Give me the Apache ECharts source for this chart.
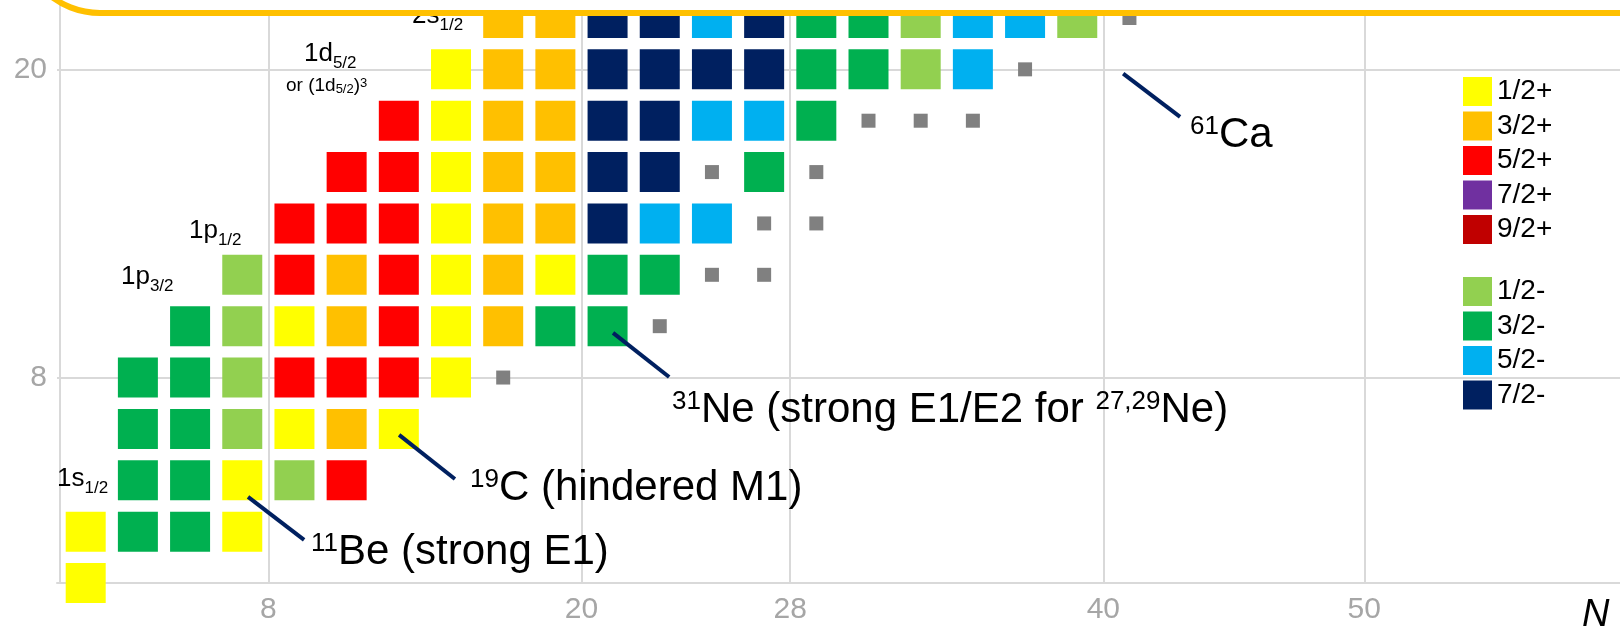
<!DOCTYPE html>
<html>
<head>
<meta charset="utf-8">
<script src="https://cdn.jsdelivr.net/npm/echarts@6/dist/echarts.min.js"></script>
<style>
  html, body { margin: 0; padding: 0; background: #fff; }
  #chart { width: 1620px; height: 633px; }
</style>
</head>
<body>
<div id="chart"></div>
<script>
// ground-state spin/parity of odd-N nuclei, points are [N, Z]
const spinNames = ['1/2+', '3/2+', '5/2+', '7/2+', '9/2+', '1/2-', '3/2-', '5/2-', '7/2-'];

const halfPlus = [[1,0],[1,2],[7,2],[7,4],[9,6],[13,6],[15,8],[9,10],[15,10],[15,12],[19,12],[15,14],[15,16],[15,18],[15,20]];
const threeHalfPlus = [[11,6],[11,10],[17,10],[11,12],[17,12],[17,14],[19,14],[17,16],[19,16],[17,18],[19,18],[17,20],[19,20],[17,22],[19,22]];
const fiveHalfPlus = [[11,4],[9,8],[11,8],[13,8],[13,10],[9,12],[13,12],[9,14],[11,14],[13,14],[11,16],[13,16],[13,18]];
const sevenHalfPlus = [];
const nineHalfPlus = [];
const halfMinus = [[9,4],[7,6],[7,8],[7,10],[7,12],[33,20],[33,22],[39,22]];
const threeHalfMinus = [[3,2],[5,2],[3,4],[5,4],[3,6],[5,6],[3,8],[5,8],[5,10],[19,10],[21,10],[21,12],[23,12],[27,16],[29,18],[29,20],[31,20],[29,22],[31,22]];
const fiveHalfMinus = [[23,14],[25,14],[25,18],[27,18],[35,20],[25,22],[35,22],[37,22]];
const sevenHalfMinus = [[21,14],[21,16],[23,16],[21,18],[23,18],[21,20],[23,20],[25,20],[27,20],[21,22],[23,22],[27,22]];
const unknownSpin = [[17,8],[23,10],[25,12],[27,12],[27,14],[29,14],[25,16],[29,16],[31,18],[33,18],[35,18],[37,20],[41,22]];

const magicN = [8, 20, 28, 40, 50];
const magicZ = [8, 20];

// leader lines for the annotations, in [N, Z]
const leaderLines = [
  [[7.22, 3.35], [9.37, 1.68]],
  [[13.01, 5.77], [15.15, 4.05]],
  [[21.21, 9.74], [23.36, 8.02]],
  [[40.76, 19.83], [42.94, 18.15]]
];

const spinPoints = [halfPlus, threeHalfPlus, fiveHalfPlus, sevenHalfPlus, nineHalfPlus,
  halfMinus, threeHalfMinus, fiveHalfMinus, sevenHalfMinus];
const spinColors = ['#FFFF00', '#FFC000', '#FF0000', '#7030A0', '#C00000',
  '#92D050', '#00B050', '#00B0F0', '#002060'];

const FONT = '"Liberation Sans", Arial, sans-serif';
const gridColor = '#d9d9d9';

const chart = echarts.init(document.getElementById('chart'));

function bigNote(x, y, text) {
  return {
    type: 'text', x: x, y: y, z: 50, silent: true,
    style: {
      text: text, fill: '#000', verticalAlign: 'middle', align: 'left',
      rich: {
        m: { fontSize: 42, fontFamily: FONT, lineHeight: 42, verticalAlign: 'bottom', fill: '#000' },
        s: { fontSize: 26, fontFamily: FONT, verticalAlign: 'top', fill: '#000' }
      }
    }
  };
}

function shellLabel(x, y, text) {
  return {
    type: 'text', x: x, y: y, z: 50, silent: true,
    style: {
      text: text, fill: '#000', verticalAlign: 'middle', align: 'left',
      rich: {
        m: { fontSize: 26, fontFamily: FONT, lineHeight: 31, verticalAlign: 'top', fill: '#000' },
        b: { fontSize: 17, fontFamily: FONT, verticalAlign: 'bottom', fill: '#000' }
      }
    }
  };
}

const series = spinNames.map(function (name, i) {
  return {
    type: 'scatter',
    name: name,
    symbol: 'rect',
    symbolSize: 40,
    data: spinPoints[i],
    itemStyle: { color: spinColors[i], opacity: 1 },
    silent: true
  };
});
series.push({
  type: 'scatter',
  name: 'unknown',
  symbol: 'rect',
  symbolSize: 14,
  data: unknownSpin,
  itemStyle: { color: '#808080', opacity: 1 },
  silent: true,
  markLine: {
    silent: true,
    symbol: 'none',
    label: { show: false },
    lineStyle: { color: '#002060', width: 4, type: 'solid', opacity: 1 },
    data: leaderLines.map(function (l) {
      return [{ coord: l[0] }, { coord: l[1] }];
    })
  }
});

const legendBase = {
  orient: 'vertical',
  left: 1463,
  itemWidth: 29,
  itemHeight: 29,
  itemGap: 5.5,
  padding: 0,
  icon: 'rect',
  selectedMode: false,
  itemStyle: { opacity: 1 },
  textStyle: { fontSize: 28, color: '#000', fontFamily: FONT }
};

chart.setOption({
  animation: false,
  backgroundColor: '#fff',
  grid: { left: 57, right: 0, top: 0, bottom: 50, containLabel: false, outerBoundsMode: 'none' },
  xAxis: {
    type: 'value',
    min: -0.1,
    max: 59.8,
    axisLine: { show: true, lineStyle: { color: gridColor, width: 2 } },
    axisTick: { show: false, customValues: magicN },
    axisLabel: { customValues: magicN, fontSize: 30, color: '#a6a6a6', fontFamily: FONT, margin: 12 },
    splitLine: { show: true, lineStyle: { color: gridColor, width: 2 } }
  },
  yAxis: {
    type: 'value',
    min: 0,
    max: 22.7,
    axisLine: { show: true, lineStyle: { color: gridColor, width: 2 } },
    axisTick: { show: false, customValues: magicZ },
    axisLabel: { customValues: magicZ, fontSize: 30, color: '#a6a6a6', fontFamily: FONT, margin: 10 },
    splitLine: { show: true, lineStyle: { color: gridColor, width: 2 } }
  },
  legend: [
    Object.assign({}, legendBase, { top: 77, data: spinNames.slice(0, 5) }),
    Object.assign({}, legendBase, { top: 277, data: spinNames.slice(5) })
  ],
  series: series,
  graphic: [
    shellLabel(57, 481.5, '{m|1s}{b|1/2}'),
    shellLabel(121, 279.5, '{m|1p}{b|3/2}'),
    shellLabel(189, 233.5, '{m|1p}{b|1/2}'),
    shellLabel(304, 56.5, '{m|1d}{b|5/2}'),
    shellLabel(412, 18.5, '{m|2s}{b|1/2}'),
    {
      type: 'text', x: 286, y: 86, z: 50, silent: true,
      style: {
        text: '{m|or (1d}{b|5/2}{m|)}{t|3}', verticalAlign: 'middle', fill: '#000',
        rich: {
          m: { fontSize: 19, fontFamily: FONT, lineHeight: 19, fill: '#000' },
          b: { fontSize: 13, fontFamily: FONT, verticalAlign: 'bottom', fill: '#000' },
          t: { fontSize: 13, fontFamily: FONT, verticalAlign: 'top', fill: '#000' }
        }
      }
    },
    bigNote(311, 552, '{s|11}{m|Be (strong E1)}'),
    bigNote(470, 488, '{s|19}{m|C (hindered M1)}'),
    bigNote(672, 410, '{s|31}{m|Ne (strong E1/E2 for }{s|27,29}{m|Ne)}'),
    bigNote(1190, 135, '{s|61}{m|Ca}'),
    {
      type: 'text', x: 1582, y: 615, z: 50, silent: true,
      style: { text: 'N', fontSize: 38, fontStyle: 'italic', fontFamily: FONT, fill: '#000', verticalAlign: 'middle' }
    },
    {
      type: 'rect', z: 100, silent: true,
      shape: { x: 20, y: -300, width: 1700, height: 313, r: 80 },
      style: { fill: '#fff', stroke: '#FFC000', lineWidth: 6 }
    }
  ]
});
</script>
</body>
</html>
